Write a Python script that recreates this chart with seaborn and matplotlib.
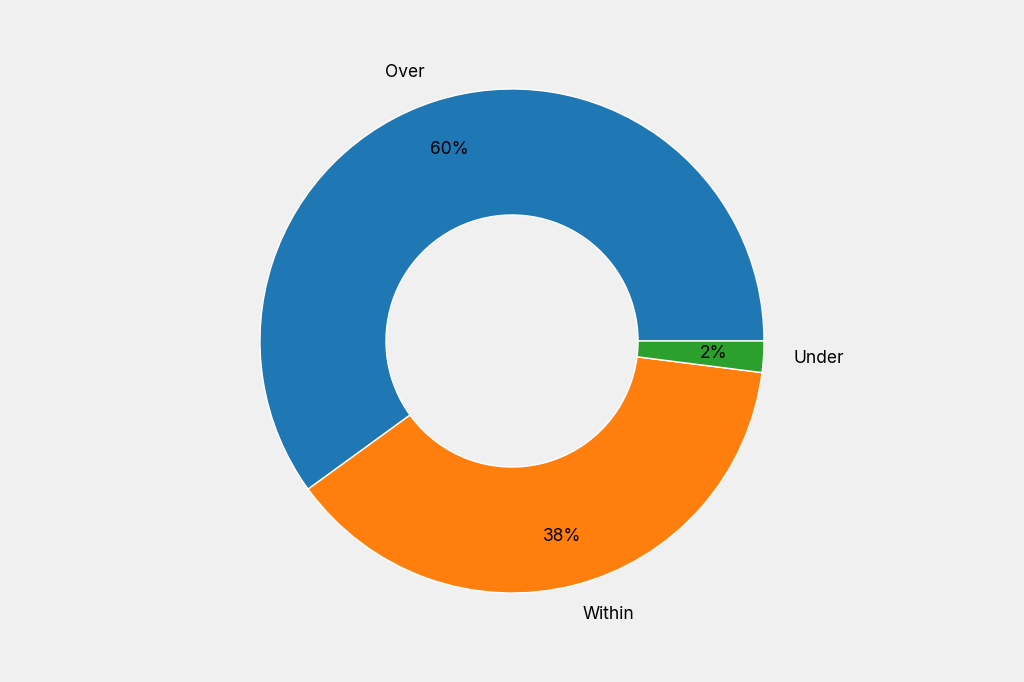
import matplotlib
matplotlib.use("Agg")
import matplotlib.pyplot as plt
import seaborn as sns

labels = ["Over", "Within", "Under"]
values = [60, 38, 2]

sns.set_theme(style="white")
plt.rcParams["font.family"] = ["Inter", "DejaVu Sans"]

colors = sns.color_palette("tab10", 3)
fig = plt.figure(figsize=(10.24, 6.82), dpi=100, facecolor="#f0f0f0")
ax = fig.add_axes([0, 0, 1, 1])
ax.set_facecolor("#f0f0f0")
ax.pie(values, labels=labels, colors=colors, startangle=0, autopct="%d%%",
       pctdistance=0.8, labeldistance=1.12,
       wedgeprops=dict(width=0.5), textprops=dict(fontsize=12.5, color="black"))
ax.set_aspect("equal")
ax.set_xlim(-2.03, 2.03)
ax.set_ylim(-1.353, 1.353)
ax.axis("off")
fig.savefig("out.png", dpi=100, facecolor=fig.get_facecolor())
